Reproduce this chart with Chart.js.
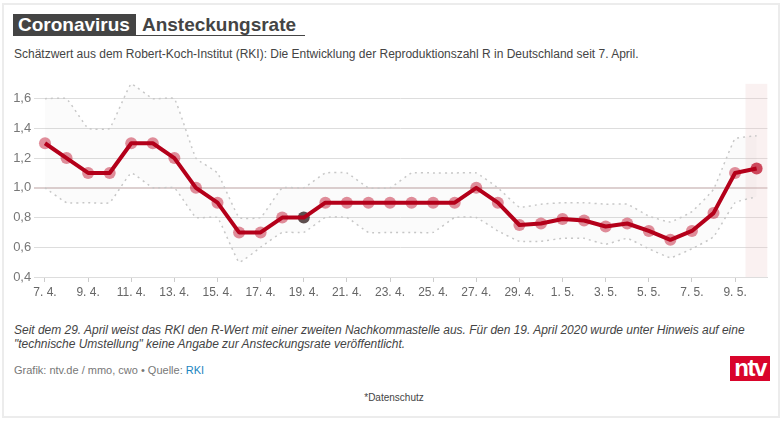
<!DOCTYPE html>
<html lang="de">
<head>
<meta charset="utf-8">
<title>Coronavirus Ansteckungsrate</title>
<script src="https://cdn.jsdelivr.net/npm/chart.js@4"></script>
<style>
  html, body { margin: 0; padding: 0; background: #fff; }
  body { width: 784px; height: 422px; position: relative; overflow: hidden; font-family: "Liberation Sans", Arial, sans-serif; }
  #frame { position: absolute; left: 2px; top: 3px; width: 774px; height: 411px; border: 2px solid #ececec; }
  #head { position: absolute; left: 13px; top: 14px; width: 292px; height: 21px; border-bottom: 1px solid #444; font-size: 19px; line-height: 22px; font-weight: bold; color: #444; white-space: nowrap; }
  #head b { display: inline-block; background: #444; color: #fff; padding: 0 6px 0 5px; margin-right: 6px; height: 22px; }
  #sub { position: absolute; left: 14px; top: 47px; font-size: 12px; line-height: 14px; color: #444; white-space: nowrap; letter-spacing: -0.01px; }
  #note { position: absolute; left: 14px; top: 323px; font-size: 12px; line-height: 14px; font-style: italic; color: #444; white-space: nowrap; letter-spacing: -0.02px; }
  #credit { position: absolute; left: 14px; top: 364px; font-size: 11px; line-height: 13px; color: #777; white-space: nowrap; }
  #credit span { color: #1a85c0; }
  #logo { position: absolute; left: 730px; top: 356px; width: 40px; height: 25px; background: #d9042b; color: #fff; font-size: 24px; font-weight: bold; line-height: 23px; text-align: center; letter-spacing: -1.5px; }
  #privacy { position: absolute; left: 2px; width: 784px; top: 392px; text-align: center; font-size: 10px; line-height: 12px; color: #444; }
  canvas { position: absolute; left: 0; top: 73px; }
</style>
</head>
<body>
<div id="frame"></div>
<div id="head"><b>Coronavirus</b>Ansteckungsrate</div>
<div id="sub">Schätzwert aus dem Robert-Koch-Institut (RKI): Die Entwicklung der Reproduktionszahl R in Deutschland seit 7. April.</div>
<canvas id="rateChart" width="784" height="232"></canvas>
<div id="note">Seit dem 29. April weist das RKI den R-Wert mit einer zweiten Nachkommastelle aus. Für den 19. April 2020 wurde unter Hinweis auf eine<br>"technische Umstellung" keine Angabe zur Ansteckungsrate veröffentlicht.</div>
<div id="credit">Grafik: ntv.de / mmo, cwo • Quelle: <span>RKI</span></div>
<div id="logo">ntv</div>
<div id="privacy">*Datenschutz</div>
<script>
const days = [
  "7. 4.", "8. 4.", "9. 4.", "10. 4.", "11. 4.", "12. 4.", "13. 4.", "14. 4.", "15. 4.", "16. 4.", "17. 4.", "18. 4.",
  "19. 4.", "20. 4.", "21. 4.", "22. 4.", "23. 4.", "24. 4.", "25. 4.", "26. 4.", "27. 4.", "28. 4.", "29. 4.", "30. 4.",
  "1. 5.", "2. 5.", "3. 5.", "4. 5.", "5. 5.", "6. 5.", "7. 5.", "8. 5.", "9. 5.", "10. 5."
];
const rValues = [
  1.3, 1.2, 1.1, 1.1, 1.3, 1.3, 1.2, 1.0, 0.9, 0.7, 0.7, 0.8,
  0.8, 0.9, 0.9, 0.9, 0.9, 0.9, 0.9, 0.9, 1.0, 0.9, 0.75, 0.76,
  0.79, 0.78, 0.74, 0.76, 0.71, 0.65, 0.71, 0.83, 1.10, 1.13
];
const upperValues = [
  1.6, 1.6, 1.4, 1.4, 1.7, 1.6, 1.6, 1.2, 1.1, 0.8, 0.8, 1.0,
  1.0, 1.1, 1.1, 1.0, 1.0, 1.1, 1.1, 1.1, 1.1, 1.0, 0.87, 0.89,
  0.90, 0.90, 0.89, 0.89, 0.81, 0.77, 0.84, 0.99, 1.33, 1.35
];
const lowerValues = [
  1.0, 0.9, 0.9, 0.9, 1.1, 1.0, 1.0, 0.8, 0.8, 0.5, 0.6, 0.7,
  0.7, 0.8, 0.8, 0.7, 0.7, 0.7, 0.7, 0.8, 0.8, 0.71, 0.64, 0.64,
  0.66, 0.66, 0.62, 0.66, 0.59, 0.53, 0.59, 0.67, 0.90, 0.94
];
const axisMin = 0.4;
const axisMax = 1.7;
const noDataDay = "19. 4.";
const latestDay = "10. 5.";
// every other date gets a label, as in the original
const labelledDays = days.filter((d, i) => i % 2 === 0);

new Chart(document.getElementById("rateChart"), {
  type: "line",
  data: {
    labels: days,
    datasets: [
      {
        type: "bar",
        data: days.map(d => d === latestDay ? [axisMin, axisMax] : null),
        backgroundColor: "rgba(235,200,200,0.25)",
        barPercentage: 1,
        categoryPercentage: 1,
        order: 5
      },
      {
        data: upperValues,
        borderColor: "#c8c8c8",
        borderWidth: 1.5,
        borderDash: [2, 4],
        backgroundColor: "rgba(120,120,120,0.03)",
        fill: "+1",
        tension: 0.1,
        pointRadius: 0,
        order: 4
      },
      {
        data: lowerValues,
        borderColor: "#c8c8c8",
        borderWidth: 1.5,
        borderDash: [2, 4],
        fill: false,
        tension: 0.1,
        pointRadius: 0,
        order: 4
      },
      {
        data: rValues,
        showLine: false,
        pointRadius: 6,
        pointBorderWidth: 0,
        pointBackgroundColor: ctx => {
          const day = days[ctx.dataIndex];
          if (day === noDataDay) return "rgba(40,20,20,0.75)";
          if (day === latestDay) return "rgba(195,30,55,0.8)";
          return "rgba(195,30,55,0.5)";
        },
        order: 2
      },
      {
        data: rValues,
        borderColor: "#b4001a",
        borderWidth: 4,
        borderJoinStyle: "round",
        fill: false,
        pointRadius: 0,
        order: 1
      }
    ]
  },
  options: {
    responsive: false,
    animation: false,
    layout: { padding: { top: 10, right: 16.6, bottom: 0, left: 0 } },
    plugins: { legend: { display: false }, tooltip: { enabled: false } },
    scales: {
      x: {
        offset: true,
        afterFit: scale => { scale.height = 28; },
        border: { color: "#dddddd" },
        grid: { offset: false, drawOnChartArea: false, tickLength: 5, tickColor: "#cccccc" },
        ticks: {
          autoSkip: false,
          maxRotation: 0,
          padding: 3,
          color: "#666666",
          font: { family: "Liberation Sans", size: 12 },
          callback: function (value) {
            const day = this.getLabelForValue(value);
            return labelledDays.includes(day) ? day : null;
          }
        }
      },
      y: {
        min: axisMin,
        max: axisMax,
        afterFit: scale => { scale.width = 34.2; },
        border: { display: false },
        grid: {
          drawTicks: false,
          color: ctx => Math.abs(ctx.tick.value - 1) < 0.01 ? "#ddd0d0" : "#dddddd",
          lineWidth: ctx => Math.abs(ctx.tick.value - 1) < 0.01 ? 2 : 1
        },
        ticks: {
          stepSize: 0.2,
          padding: 3,
          color: "#777777",
          font: { family: "Liberation Sans", size: 13 },
          callback: value => value > 1.65 ? null : value.toFixed(1).replace(".", ",")
        }
      }
    }
  }
});
</script>
</body>
</html>
